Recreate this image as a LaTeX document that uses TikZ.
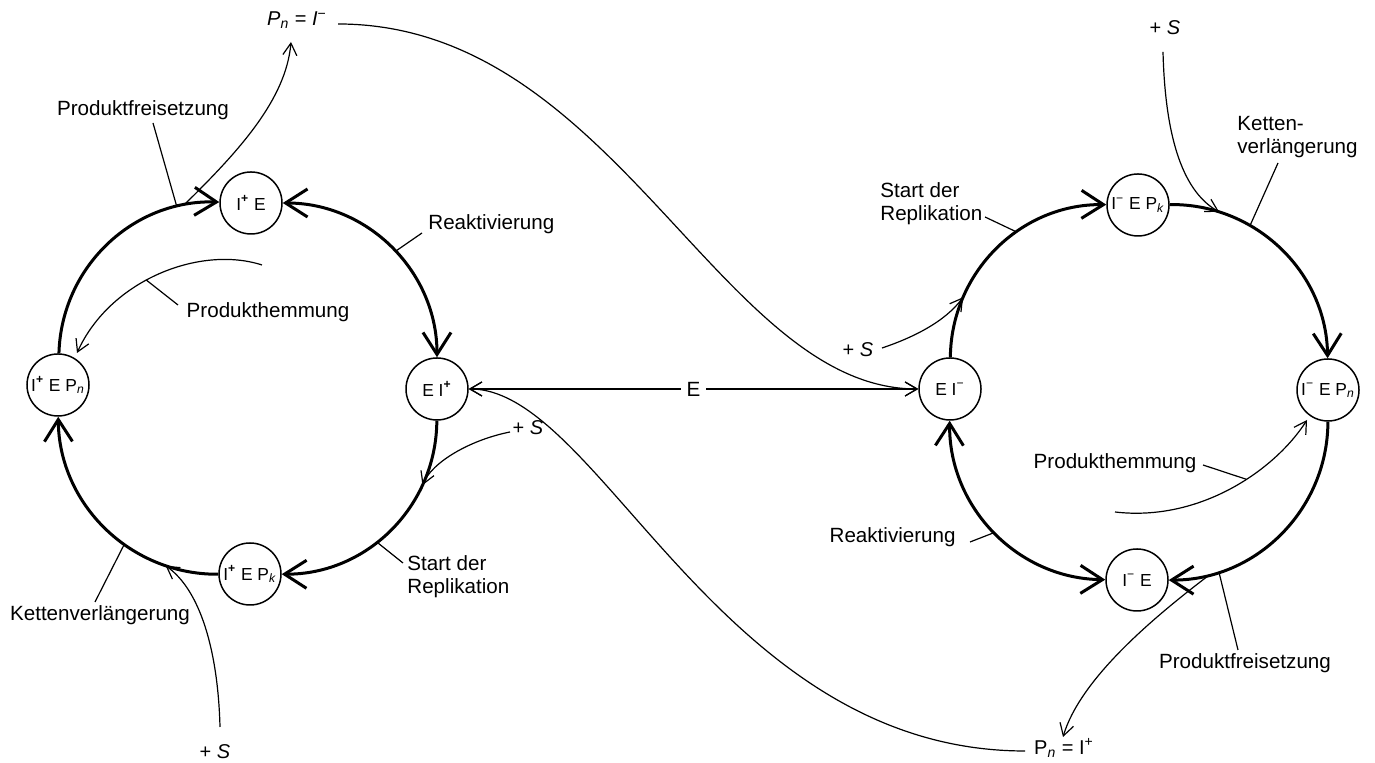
\documentclass[tikz,border=0pt]{standalone}
\usepackage{fontspec}
\setmainfont{Liberation Sans}
\usetikzlibrary{arrows.meta}
\begin{document}
\begin{tikzpicture}[x=0.5pt,y=0.5pt,
  state/.style={circle, draw, line width=0.75pt, minimum size=31pt, inner sep=0pt, font=\fontsize{8.7}{10}\selectfont},
  cyc/.style={line width=1.5pt},
  cyctip/.style={-{Straight Barb[length=11pt,width=14pt]}},
  cycboth/.style={{Straight Barb[length=11pt,width=14pt]}-{Straight Barb[length=11pt,width=14pt]}},
  thinline/.style={line width=0.6pt},
  thintip/.style={-{Straight Barb[length=6pt,width=7pt]}},
  thinboth/.style={{Straight Barb[length=6pt,width=7pt]}-{Straight Barb[length=6pt,width=7pt]}},
  lbl/.style={font=\fontsize{10.3}{11.5}\selectfont, inner sep=1pt},
  slbl/.style={font=\fontsize{10}{11.5}\selectfont, inner sep=1pt}
]
\useasboundingbox (0,0) rectangle (1375,763);

% ---- left cycle states
\node[state] (lt) at (251,560) {I\textsuperscript{\textbf{+}} E};
\node[state] (lr) at (437,374) {E I\textsuperscript{\textbf{+}}};
\node[state] (lb) at (250,189) {I\textsuperscript{\textbf{+}} E P\textsubscript{\textit{k}}};
\node[state] (ll) at (58,378) {I\textsuperscript{\textbf{+}} E P\textsubscript{\textit{n}}};

% ---- right cycle states
\node[state] (rl) at (950,374) {E I\textsuperscript{−}};
\node[state] (rt) at (1138,558) {I\textsuperscript{−} E P\textsubscript{\textit{k}}};
\node[state] (rr) at (1328,373) {I\textsuperscript{−} E P\textsubscript{\textit{n}}};
\node[state] (rb) at (1137,183) {I\textsuperscript{−} E};

% ---- product texts
\node[slbl] (ptop) at (297,743) {\textit{P}\textsubscript{\textit{n}} = \textit{I}\textsuperscript{−}};
\node[slbl] (pbot) at (1064,15) {P\textsubscript{\textit{n}} = I\textsuperscript{+}};

% ---- left labels
\node[lbl] (pfl) at (143,653) {Produktfreisetzung};
\node[lbl] (phl) at (268,451) {Produkthemmung};
\node[lbl, anchor=west] (ral) at (426,539) {Reaktivierung};
\node[lbl, anchor=west, align=left] (sdl) at (405,186) {Start der\\Replikation};
\node[lbl] (kvl) at (100,148) {Kettenverlängerung};
\node[slbl] (spl) at (528,335) {+ \textit{S}};
\node[slbl] (sbl) at (215,11) {+ \textit{S}};

% ---- right labels
\node[lbl, anchor=west, align=left] (sdr) at (878,559) {Start der\\Replikation};
\node[slbl] (spr) at (858,413) {+ \textit{S}};
\node[lbl, anchor=west, align=left] (kvr) at (1235,626) {Ketten-\\verlängerung};
\node[slbl] (str) at (1165,735) {+ \textit{S}};
\node[lbl] (phr) at (1115,300) {Produkthemmung};
\node[lbl, anchor=east] (rar) at (958,226) {Reaktivierung};
\node[lbl] (pfr) at (1245,100) {Produktfreisetzung};

% ---- cycle arcs (left)
\draw[cyc, cyctip] (lr) to[bend left=45] coordinate[pos=0.27] (sple) coordinate[pos=0.58] (sdla) (lb);
\draw[cyc, cyctip] (lb) to[bend left=45] coordinate[pos=0.21] (sble) coordinate[pos=0.40] (kvla) (ll);
\draw[cyc, cyctip] (ll) to[bend left=45] coordinate[pos=0.83] (pfla) coordinate[pos=0.86] (pfls) (lt);
\draw[cyc, cycboth] (lt) to[bend left=45] coordinate[pos=0.52] (rala) (lr);

% ---- cycle arcs (right)
\draw[cyc, cyctip] (rl) to[bend left=45] coordinate[pos=0.25] (spre) coordinate[pos=0.61] (sdra) (rt);
\draw[cyc, cyctip] (rt) to[bend left=45] coordinate[pos=0.20] (stre) coordinate[pos=0.34] (kvra) (rr);
\draw[cyc, cyctip] (rr) to[bend left=45] coordinate[pos=0.80] (pfra) coordinate[pos=0.84] (pfrs) (rb);
\draw[cyc, cycboth] (rb) to[bend left=45] coordinate[pos=0.50] (rara) (rl);

% ---- enzyme exchange
\draw[thinline, thinboth] (lr) -- node[fill=white, lbl, inner sep=3pt] (elbl) {E} (rl);
\coordinate (ptopstart) at (338,739);
\draw[thinline, thintip] (ptopstart) .. controls (615,739) and (720,374) .. (rl.west);
\coordinate (pbotend) at (1025,12);
\draw[thinline, thintip] (pbotend) .. controls (720,12) and (600,374) .. (lr.east);

% ---- left thin arrows
\coordinate (pfle) at (291,721);
\draw[thinline, thintip] (pfls) .. controls (238,611) and (286,663) .. (pfle);
\coordinate (phls) at (262,498);
\coordinate (phle) at (77,410);
\draw[thinline, thintip] (phls) .. controls (200,518) and (110,483) .. (phle) coordinate[pos=0.56] (phla);
\coordinate (spls) at (510,331);
\draw[thinline, thintip] (spls) .. controls (470,323) and (432,301) .. (sple);
\coordinate (sbls) at (220,36);
\draw[thinline, thintip] (sbls) .. controls (218,113) and (200,173) .. (sble);

% ---- right thin arrows
\coordinate (sprs) at (882,415);
\draw[thinline, thintip] (sprs) .. controls (912,425) and (945,441) .. (spre);
\coordinate (strs) at (1163,711);
\draw[thinline, thintip] (strs) .. controls (1165,633) and (1180,573) .. (stre);
\coordinate (phrs) at (1115,251);
\coordinate (phre) at (1307,343);
\draw[thinline, thintip] (phrs) .. controls (1200,241) and (1275,293) .. (phre) coordinate[pos=0.58] (phra);
\coordinate (pfre) at (1063,26);
\draw[thinline, thintip] (pfrs) .. controls (1150,143) and (1080,83) .. (pfre);

% ---- leader lines (left)
\draw[thinline] (153,640) -- (pfla);
\draw[thinline] (178,458) -- (phla);
\draw[thinline] (422,530) -- (rala);
\draw[thinline] (403,200) -- (sdla);
\draw[thinline] (95,161) -- (kvla);

% ---- leader lines (right)
\draw[thinline] (985,546) -- (sdra);
\draw[thinline] (1278,600) -- (kvra);
\draw[thinline] (1203,298) -- (phra);
\draw[thinline] (970,221) -- (rara);
\draw[thinline] (1238,113) -- (pfra);
\end{tikzpicture}
\end{document}
